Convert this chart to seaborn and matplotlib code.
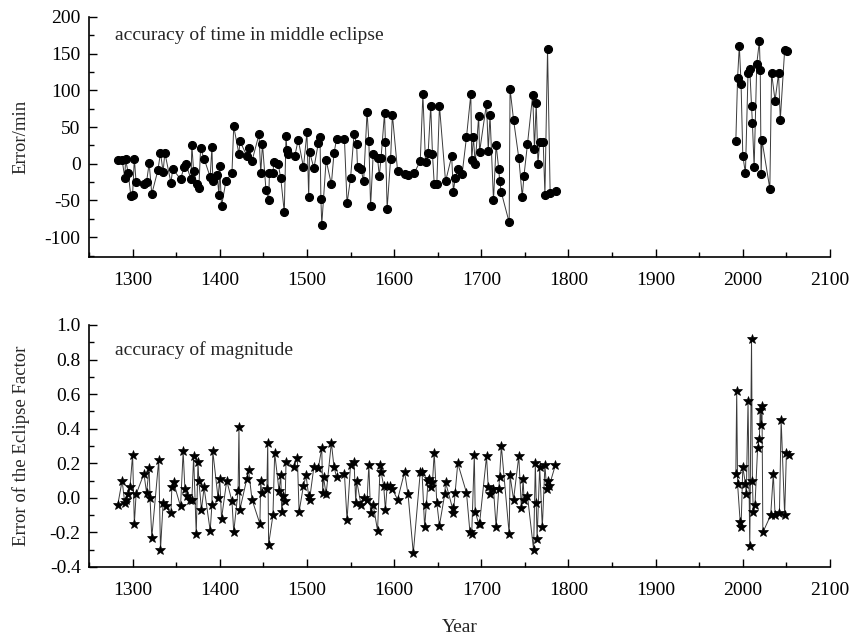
import matplotlib
matplotlib.use("Agg")
import matplotlib.pyplot as plt
from matplotlib.ticker import MultipleLocator
import seaborn as sns
import pandas as pd

# ---- data: top panel (error of mid-eclipse time, minutes) ----
time_years_hist = [1283, 1288, 1291, 1292, 1295, 1298, 1300, 1302, 1304, 1313, 1316, 1319, 1322, 1329, 1332, 1335,
                   1337, 1344, 1346, 1355, 1359, 1361, 1367, 1368, 1370, 1374, 1376, 1378, 1382, 1389, 1391, 1392,
                   1397, 1399, 1400, 1402, 1407, 1414, 1416, 1422, 1423, 1431, 1433, 1437, 1445, 1447, 1449, 1453,
                   1456, 1457, 1461, 1462, 1467, 1470, 1474, 1476, 1477, 1478, 1486, 1490, 1496, 1500, 1502, 1503,
                   1508, 1513, 1515, 1516, 1517, 1522, 1528, 1531, 1534, 1543, 1546, 1550, 1554, 1557, 1558, 1562,
                   1565, 1569, 1571, 1573, 1576, 1581, 1583, 1585, 1589, 1590, 1592, 1596, 1598, 1604, 1612, 1616,
                   1623, 1630, 1633, 1636, 1639, 1642, 1644, 1646, 1649, 1652, 1659, 1666, 1668, 1670, 1673, 1678,
                   1683, 1688, 1689, 1691, 1693, 1697, 1698, 1706, 1708, 1710, 1714, 1717, 1720, 1721, 1723, 1732,
                   1733, 1737, 1743, 1747, 1749, 1753, 1759, 1761, 1763, 1765, 1767, 1771, 1773, 1776, 1779, 1786]
time_err_hist = [5, 5, -19, 6, -13, -44, -42, 7, -25, -28, -25, 1, -41, -9, 15, -11,
                 15, -26, -7, -21, -5, 0, -21, 25, -10, -28, -33, 21, 7, -18, 23, -23,
                 -15, -42, -3, -58, -24, -12, 51, 13, 31, 11, 21, 4, 40, -13, 27, -36,
                 -50, -13, -13, 2, 0, -20, -66, 38, 19, 13, 10, 33, -5, 43, -45, 16,
                 -6, 28, 36, -48, -83, 5, -28, 14, 34, 34, -54, -20, 40, 27, -5, -7,
                 -24, 71, 31, -58, 13, 8, -17, 8, 69, 30, -61, 7, 67, -10, -14, -15,
                 -13, 4, 95, 2, 14, 79, 13, -27, -27, 79, -24, 10, -38, -20, -7, -14,
                 36, 95, 5, 36, 0, 65, 16, 82, 18, 66, -50, 26, -7, -23, -39, -80,
                 102, 60, 8, -45, -16, 27, 94, 20, 83, 0, 29, 30, -42, 156, -40, -37]
time_years_mod = [1992, 1994, 1996, 1998, 2000, 2003, 2006, 2008, 2010, 2011, 2013, 2016, 2019, 2020,
                  2021, 2022, 2031, 2033, 2037, 2041, 2043, 2048, 2051]
time_err_mod = [31, 117, 161, 109, 11, -13, 124, 129, 79, 56, -5, 136, 167, 128,
                -14, 32, -34, 124, 86, 123, 60, 155, 153]

# ---- data: bottom panel (error of eclipse magnitude) ----
mag_years_hist = [1283, 1288, 1291, 1292, 1295, 1297, 1300, 1302, 1304, 1313, 1316, 1319, 1320, 1322, 1330, 1332,
                  1335, 1338, 1344, 1345, 1347, 1355, 1358, 1360, 1362, 1366, 1368, 1370, 1373, 1375, 1376, 1379,
                  1382, 1389, 1391, 1392, 1398, 1400, 1402, 1408, 1414, 1416, 1421, 1422, 1423, 1431, 1433, 1437,
                  1446, 1447, 1448, 1454, 1455, 1456, 1461, 1463, 1468, 1470, 1471, 1473, 1475, 1476, 1485, 1489,
                  1491, 1496, 1499, 1502, 1503, 1508, 1513, 1517, 1518, 1519, 1522, 1528, 1531, 1534, 1543, 1546,
                  1550, 1554, 1556, 1557, 1562, 1565, 1569, 1571, 1573, 1576, 1581, 1584, 1585, 1588, 1590, 1592,
                  1595, 1598, 1604, 1612, 1616, 1622, 1630, 1632, 1635, 1637, 1639, 1640, 1642, 1644, 1646, 1649,
                  1652, 1658, 1659, 1667, 1668, 1670, 1673, 1683, 1687, 1689, 1692, 1693, 1697, 1698, 1706, 1708,
                  1710, 1714, 1717, 1720, 1721, 1723, 1732, 1733, 1737, 1743, 1746, 1748, 1749, 1753, 1760, 1762,
                  1763, 1764, 1767, 1770, 1773, 1775, 1777, 1778, 1785]
mag_err_hist = [-0.04, 0.10, -0.03, -0.01, 0.02, 0.06, 0.25, -0.15, 0.02, 0.14, 0.03, 0.17, 0.00, -0.23, 0.22, -0.30,
                -0.03, -0.05, -0.09, 0.06, 0.09, -0.05, 0.27, 0.05, 0.01, -0.01, -0.01, 0.24, -0.21, 0.21, 0.10, -0.07,
                0.06, -0.19, -0.04, 0.27, 0.00, 0.11, -0.12, 0.10, -0.02, -0.20, 0.04, 0.41, -0.07, 0.11, 0.16, -0.01,
                -0.15, 0.10, 0.03, 0.05, 0.32, -0.27, -0.10, 0.26, 0.04, 0.13, -0.08, 0.01, -0.02, 0.21, 0.18, 0.23,
                -0.08, 0.07, 0.13, 0.01, -0.01, 0.18, 0.17, 0.29, 0.03, 0.12, 0.02, 0.32, 0.18, 0.12, 0.14, -0.13,
                0.19, 0.21, -0.03, 0.10, -0.04, 0.00, -0.01, 0.19, -0.09, -0.04, -0.19, 0.19, 0.15, 0.07, -0.07, 0.07,
                0.07, 0.05, -0.01, 0.15, 0.02, -0.32, 0.15, 0.15, -0.17, -0.04, 0.10, 0.11, 0.06, 0.09, 0.26, -0.03,
                -0.16, 0.02, 0.09, -0.06, -0.09, 0.03, 0.20, 0.03, -0.20, -0.21, 0.25, -0.08, -0.15, -0.15, 0.24, 0.06,
                0.02, 0.05, -0.17, 0.05, 0.12, 0.30, -0.21, 0.13, -0.01, 0.24, -0.06, 0.11, -0.01, 0.01, -0.30, 0.20,
                -0.03, -0.24, 0.18, -0.17, 0.19, 0.05, 0.10, 0.07, 0.19]
mag_years_mod = [1992, 1993, 1994, 1997, 1998, 2000, 2003, 2004, 2006, 2008, 2010, 2011, 2012, 2014,
                 2017, 2019, 2020, 2021, 2022, 2023, 2032, 2035, 2037, 2042, 2044, 2048, 2050, 2053]
mag_err_mod = [0.14, 0.62, 0.08, -0.14, -0.17, 0.18, 0.08, 0.02, 0.56, -0.28, 0.92, 0.10, -0.08, -0.04,
               0.29, 0.34, 0.51, 0.42, 0.53, -0.20, -0.10, 0.14, -0.10, -0.09, 0.45, -0.10, 0.26, 0.25]

x_ticks = [1300, 1400, 1500, 1600, 1700, 1800, 1900, 2000, 2100]
time_ticks = [-100, -50, 0, 50, 100, 150, 200]
mag_ticks = [-0.4, -0.2, 0.0, 0.2, 0.4, 0.6, 0.8, 1.0]

time_df = pd.concat([
    pd.DataFrame({"year": time_years_hist, "err": time_err_hist, "era": "historical"}),
    pd.DataFrame({"year": time_years_mod, "err": time_err_mod, "era": "modern"}),
])
mag_df = pd.concat([
    pd.DataFrame({"year": mag_years_hist, "err": mag_err_hist, "era": "historical"}),
    pd.DataFrame({"year": mag_years_mod, "err": mag_err_mod, "era": "modern"}),
])

sns.set_theme(style="ticks")
plt.rcParams["font.family"] = ["Liberation Serif", "DejaVu Serif"]
plt.rcParams["axes.unicode_minus"] = False
FS = 14

fig = plt.figure(figsize=(8.51, 6.38), dpi=100)
ax1 = fig.add_axes([0.1046, 0.5972, 0.8707, 0.3762])
ax2 = fig.add_axes([0.1046, 0.1113, 0.8707, 0.3793])

sns.lineplot(data=time_df, x="year", y="err", units="era", estimator=None, ax=ax1,
             color="#3a3a3a", linewidth=0.7, marker="o", markersize=5.8,
             markerfacecolor="black", markeredgecolor="black")
sns.lineplot(data=mag_df, x="year", y="err", units="era", estimator=None, ax=ax2,
             color="#3a3a3a", linewidth=0.7, marker="*", markersize=7.5,
             markerfacecolor="black", markeredgecolor="black", markeredgewidth=0.5)

for ax in (ax1, ax2):
    ax.set_xlim(1250, 2100)
    ax.set_xticks(x_ticks)
    ax.xaxis.set_minor_locator(MultipleLocator(50))
    ax.tick_params(axis="both", which="both", direction="in", colors="black", labelsize=FS)
    ax.tick_params(which="major", length=6, width=1)
    ax.tick_params(which="minor", length=3.5, width=1)
    ax.tick_params(axis="x", pad=11)
    ax.tick_params(axis="y", pad=6)
    sns.despine(ax=ax)
    for s in ("left", "bottom"):
        ax.spines[s].set_color("black")
        ax.spines[s].set_linewidth(1.2)
    ax.yaxis.set_label_coords(-0.08, 0.5)

ax1.set_ylim(-127, 200)
ax1.set_yticks(time_ticks)
ax1.yaxis.set_minor_locator(MultipleLocator(25))
ax1.set_xlabel("")
ax1.set_ylabel("Error/min", fontsize=13.5)
ax1.text(0.035, 0.925, "accuracy of time in middle eclipse", transform=ax1.transAxes,
         fontsize=FS, va="center", ha="left")

ax2.set_ylim(-0.4, 1.0)
ax2.set_yticks(mag_ticks)
ax2.set_yticklabels([f"{v:.1f}" for v in mag_ticks])
ax2.yaxis.set_minor_locator(MultipleLocator(0.1))
ax2.set_xlabel("Year", fontsize=FS, labelpad=14)
ax2.set_ylabel("Error of the Eclipse Factor", fontsize=13.5)
ax2.text(0.035, 0.897, "accuracy of magnitude", transform=ax2.transAxes,
         fontsize=FS, va="center", ha="left")

fig.savefig("out.png", dpi=100)
